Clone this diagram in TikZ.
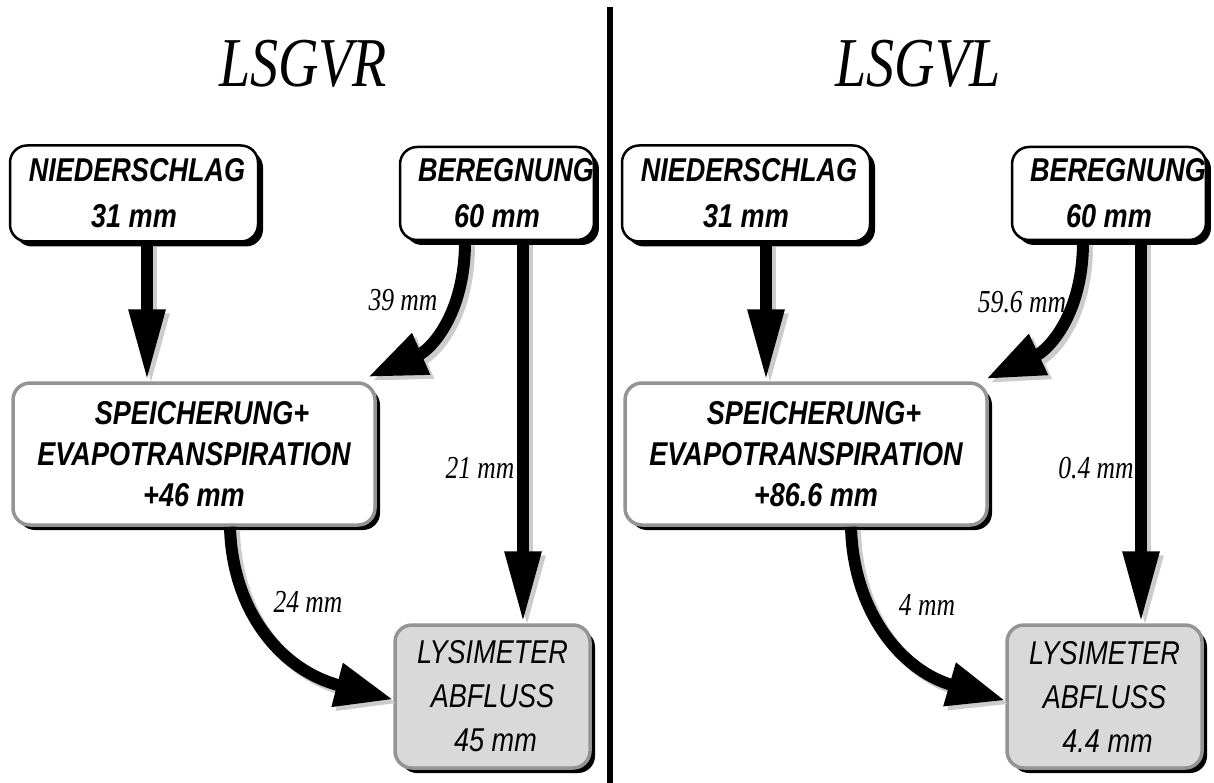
\documentclass[tikz,border=0pt]{standalone}
\usepackage{fontspec}
\setmainfont{Liberation Serif}
\newfontfamily\boxfont[FakeStretch=0.82]{Liberation Sans}
\newfontfamily\labfont[FakeStretch=0.8]{Liberation Serif}
\newfontfamily\titfont[FakeStretch=0.8]{Liberation Serif}
\usetikzlibrary{arrows.meta,shadows,calc}
\definecolor{shgray}{gray}{0.80}
\definecolor{bordergray}{gray}{0.58}
\definecolor{lysfill}{gray}{0.85}
\newcommand\shflow[1]{%
  \draw[flow,draw=shgray,fill=shgray,transform canvas={xshift=4pt,yshift=-4pt}] #1;
  \draw[flow] #1;}
\begin{document}
\begin{tikzpicture}[x=1pt,y=-1pt,
  boxbase/.style={rounded corners=17pt, inner sep=0pt, align=center,
    drop shadow={shadow xshift=5pt, shadow yshift=-5pt, fill=black, opacity=1}},
  topbox/.style={boxbase, draw=black, line width=2.5pt, fill=white,
    font=\boxfont\bfseries\itshape\fontsize{33}{46}\selectfont},
  midbox/.style={boxbase, draw=bordergray, line width=3.5pt, fill=white,
    font=\boxfont\bfseries\itshape\fontsize{33}{41}\selectfont},
  lysbox/.style={boxbase, draw=bordergray, line width=3.5pt, fill=lysfill,
    font=\boxfont\itshape\fontsize{33}{44}\selectfont},
  flow/.style={line width=12pt, -{Triangle[length=72pt, width=34pt]}},
  cflow/.style={line width=12pt, -{Triangle[length=58pt, width=42pt]}},
  flowlabel/.style={font=\labfont\itshape\fontsize{32}{32}\selectfont, inner sep=0pt},
  title/.style={font=\titfont\itshape\fontsize{70}{70}\selectfont, anchor=base, inner sep=0pt}
]
\useasboundingbox (0,0) rectangle (1214,783);

% divider
\coordinate (dtop) at (610,7);
\coordinate (dbot) at (610,783);
\draw[line width=6pt] (dtop) -- (dbot);

% titles
\node[title] (t1) at (303,87) {LSGVR};
\node[title] (t2) at (918,87) {LSGVL};

% ---------- left panel ----------
\node[topbox, minimum width=248pt, minimum height=96pt] (n1) at (134,193.5)
  {\hspace*{6pt}NIEDERSCHLAG\\31 mm};
\node[topbox, minimum width=192pt, minimum height=93pt] (b1) at (497,193.5)
  {\hspace*{18pt}BEREGNUNG\\60 mm};
\node[midbox, minimum width=362pt, minimum height=142pt] (s1) at (194,454)
  {\hspace*{16pt}SPEICHERUNG+\\EVAPOTRANSPIRATION\\+46 mm};
\node[lysbox, minimum width=195pt, minimum height=143pt] (l1) at (492.5,696.5)
  {LYSIMETER\\ABFLUSS\\\hspace*{6pt}45 mm};

% ---------- right panel ----------
\node[topbox, minimum width=248pt, minimum height=96pt] (n2) at (746,193.5)
  {\hspace*{6pt}NIEDERSCHLAG\\31 mm};
\node[topbox, minimum width=192pt, minimum height=93pt] (b2) at (1109,193.5)
  {\hspace*{18pt}BEREGNUNG\\60 mm};
\node[midbox, minimum width=362pt, minimum height=142pt] (s2) at (806,454)
  {\hspace*{16pt}SPEICHERUNG+\\EVAPOTRANSPIRATION\\\hspace*{20pt}+86.6 mm};
\node[lysbox, minimum width=195pt, minimum height=143pt] (l2) at (1104.5,696.5)
  {LYSIMETER\\ABFLUSS\\\hspace*{6pt}4.4 mm};

% ---------- connectors, left ----------
\shflow{([xshift=13pt]n1.south) -- ([xshift=13pt]n1.south |- s1.north)}
\shflow{([xshift=26pt]b1.south) -- ([xshift=26pt]b1.south |- l1.north)}
\draw[cflow,draw=shgray,transform canvas={xshift=4pt,yshift=-4pt}]
  ([xshift=-32pt]b1.south) .. controls (465,315) and (430,350) .. (368,377);
\draw[cflow] ([xshift=-32pt]b1.south) .. controls (465,315) and (430,350) .. (368,377);
\draw[cflow,draw=shgray,transform canvas={xshift=4pt,yshift=-4pt}]
  ([xshift=36pt]s1.south) .. controls (232,610) and (280,670) .. ([yshift=-3pt]l1.west);
\draw[cflow] ([xshift=36pt]s1.south) .. controls (232,610) and (280,670) .. ([yshift=-3pt]l1.west);

% ---------- connectors, right ----------
\shflow{([xshift=20pt]n2.south) -- ([xshift=20pt]n2.south |- s2.north)}
\shflow{([xshift=32pt]b2.south) -- ([xshift=32pt]b2.south |- l2.north)}
\draw[cflow,draw=shgray,transform canvas={xshift=4pt,yshift=-4pt}]
  ([xshift=-26pt]b2.south) .. controls (1083,315) and (1048,350) .. (986,379);
\draw[cflow] ([xshift=-26pt]b2.south) .. controls (1083,315) and (1048,350) .. (986,379);
\draw[cflow,draw=shgray,transform canvas={xshift=4pt,yshift=-4pt}]
  ([xshift=45pt]s2.south) .. controls (853,610) and (900,670) .. ([yshift=-4pt]l2.west);
\draw[cflow] ([xshift=45pt]s2.south) .. controls (853,610) and (900,670) .. ([yshift=-4pt]l2.west);

% ---------- labels ----------
\node[flowlabel] (lab39) at (403,300) {39 mm};
\node[flowlabel] (lab21) at (480,468) {21 mm};
\node[flowlabel] (lab24) at (308,602) {24 mm};
\node[flowlabel] (lab596) at (1022,302) {59.6 mm};
\node[flowlabel] (lab04) at (1096,468) {0.4 mm};
\node[flowlabel] (lab4) at (927,605) {4 mm};
\end{tikzpicture}
\end{document}
